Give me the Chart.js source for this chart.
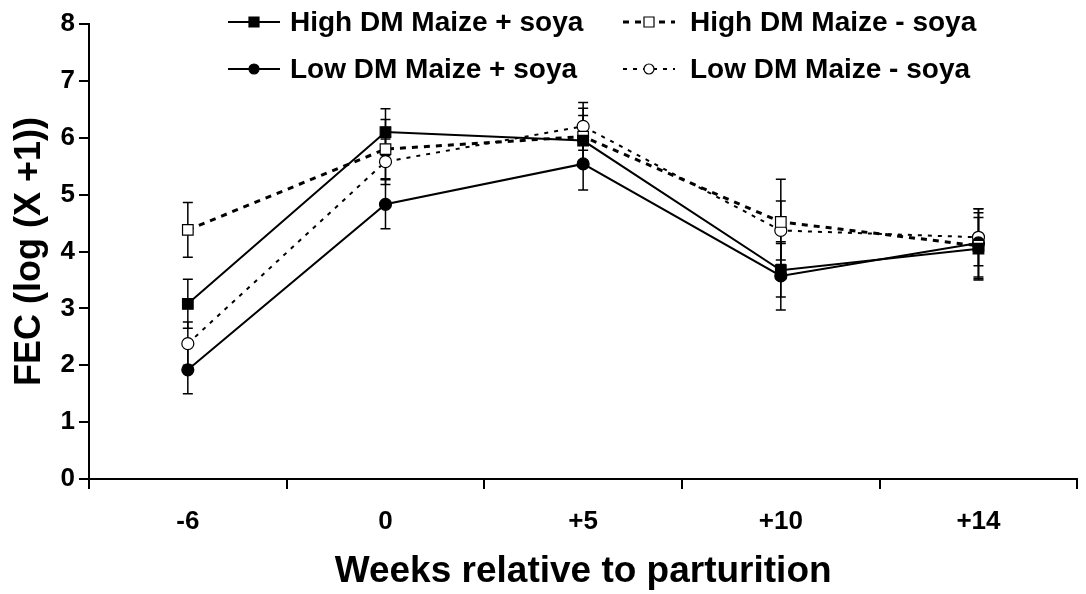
<!DOCTYPE html>
<html>
<head>
<meta charset="utf-8">
<script src="https://cdn.jsdelivr.net/npm/chart.js@4.4.1/dist/chart.umd.min.js"></script>
<style>
  html, body { margin: 0; padding: 0; background: #fff; }
  #wrap { width: 1086px; height: 594px; }
</style>
</head>
<body>
<div id="wrap"><canvas id="fecChart" width="1086" height="594"></canvas></div>
<script>
// weeks relative to parturition
const weeks = ["-6", "0", "+5", "+10", "+14"];
const yTicks = [0, 1, 2, 3, 4, 5, 6, 7, 8];

// FEC (log(X+1)) means and their error bars
const highPlus = [3.08, 6.10, 5.95, 3.67, 4.05];
const highPlusErr = [0.43, 0.41, 0.44, 0.47, 0.55];
const highMinus = [4.38, 5.80, 6.02, 4.52, 4.10];
const highMinusErr = [0.48, 0.52, 0.50, 0.75, 0.58];
const lowPlus = [1.92, 4.83, 5.54, 3.57, 4.15];
const lowPlusErr = [0.42, 0.43, 0.46, 0.60, 0.60];
const lowMinus = [2.38, 5.58, 6.20, 4.37, 4.25];
const lowMinusErr = [0.38, 0.40, 0.42, 0.52, 0.50];

const FONT = "'Liberation Sans', Arial, sans-serif";

document.addEventListener("DOMContentLoaded", function () {
  const ctx = document.getElementById("fecChart").getContext("2d");

  // vertical error bars with caps, under the lines
  const errorBars = {
    id: "errorBars",
    beforeDatasetsDraw(chart) {
      const c = chart.ctx;
      const x = chart.scales.x;
      const y = chart.scales.y;
      c.save();
      c.strokeStyle = "#000";
      c.lineWidth = 1.5;
      chart.data.datasets.forEach((ds) => {
        ds.data.forEach((v, i) => {
          const px = x.getPixelForValue(i);
          const top = y.getPixelForValue(v + ds.err[i]);
          const bot = y.getPixelForValue(v - ds.err[i]);
          c.beginPath();
          c.moveTo(px, top);
          c.lineTo(px, bot);
          c.moveTo(px - 5, top);
          c.lineTo(px + 5, top);
          c.moveTo(px - 5, bot);
          c.lineTo(px + 5, bot);
          c.stroke();
        });
      });
      c.restore();
    },
  };

  // legend drawn inside the plot, two per row
  const insideLegend = {
    id: "insideLegend",
    afterDraw(chart) {
      const c = chart.ctx;
      const symX = [228, 623];
      const textX = [290, 690];
      const rowY = [22, 69];
      c.save();
      chart.data.datasets.forEach((ds, i) => {
        const col = i % 2;
        const row = Math.floor(i / 2);
        const y = rowY[row];
        const x0 = symX[col];
        const x1 = x0 + 52;
        c.strokeStyle = "#000";
        c.lineWidth = ds.borderWidth;
        c.setLineDash(ds.borderDash || []);
        c.beginPath();
        c.moveTo(x0, y);
        c.lineTo(x1, y);
        c.stroke();
        c.setLineDash([]);
        c.fillStyle = ds.pointBackgroundColor;
        c.lineWidth = 1.2;
        const mx = (x0 + x1) / 2;
        c.beginPath();
        if (ds.pointStyle === "rect") {
          c.rect(mx - 5, y - 5, 10, 10);
        } else {
          c.arc(mx, y, 5, 0, Math.PI * 2);
        }
        c.fill();
        c.stroke();
        c.fillStyle = "#000";
        c.font = "bold 28px " + FONT;
        c.textBaseline = "middle";
        c.textAlign = "left";
        c.fillText(ds.label, textX[col], y + 1);
      });
      c.restore();
    },
  };

  function series(label, data, err, style, filled, dash, width) {
    return {
      label: label,
      data: data,
      err: err,
      borderColor: "#000",
      borderWidth: width,
      borderDash: dash,
      pointStyle: style,
      pointRadius: style === "rect" ? 7.5 : 6,
      pointBorderWidth: 1.2,
      pointBorderColor: "#000",
      pointBackgroundColor: filled ? "#000" : "#fff",
      tension: 0,
      fill: false,
    };
  }

  new Chart(ctx, {
    type: "line",
    data: {
      labels: weeks,
      datasets: [
        series("High DM Maize + soya", highPlus, highPlusErr, "rect", true, [], 2),
        series("High DM Maize - soya", highMinus, highMinusErr, "rect", false, [6, 6], 3),
        series("Low DM Maize + soya", lowPlus, lowPlusErr, "circle", true, [], 2),
        series("Low DM Maize - soya", lowMinus, lowMinusErr, "circle", false, [4, 6], 2),
      ],
    },
    options: {
      responsive: false,
      animation: false,
      layout: { padding: { top: 24, right: 6, left: 0, bottom: 0 } },
      plugins: {
        legend: { display: false },
        tooltip: { enabled: false },
      },
      scales: {
        x: {
          type: "category",
          offset: true,
          grid: {
            offset: true,
            drawOnChartArea: false,
            drawTicks: true,
            tickLength: 10,
            color: "#000",
            lineWidth: 2,
          },
          border: { display: true, color: "#000", width: 2 },
          ticks: {
            color: "#000",
            padding: 17,
            font: { family: FONT, size: 26, weight: "bold" },
          },
          title: {
            display: true,
            text: "Weeks relative to parturition",
            color: "#000",
            padding: { top: 4, bottom: 0 },
            font: { family: FONT, size: 37, weight: "bold" },
          },
          afterFit(scale) {
            scale.height = 115;
          },
        },
        y: {
          min: 0,
          max: 8,
          afterBuildTicks(scale) {
            scale.ticks = yTicks.map((v) => ({ value: v }));
          },
          grid: {
            drawOnChartArea: false,
            drawTicks: true,
            tickLength: 10,
            color: "#000",
            lineWidth: 2,
          },
          border: { display: true, color: "#000", width: 2 },
          ticks: {
            color: "#000",
            padding: 4,
            font: { family: FONT, size: 26, weight: "bold" },
          },
          title: {
            display: true,
            text: "FEC (log (X +1))",
            color: "#000",
            padding: { top: 8, bottom: 0 },
            font: { family: FONT, size: 36, weight: "bold" },
          },
          afterFit(scale) {
            scale.width = 89;
          },
        },
      },
    },
    plugins: [errorBars, insideLegend],
  });
});
</script>
</body>
</html>
